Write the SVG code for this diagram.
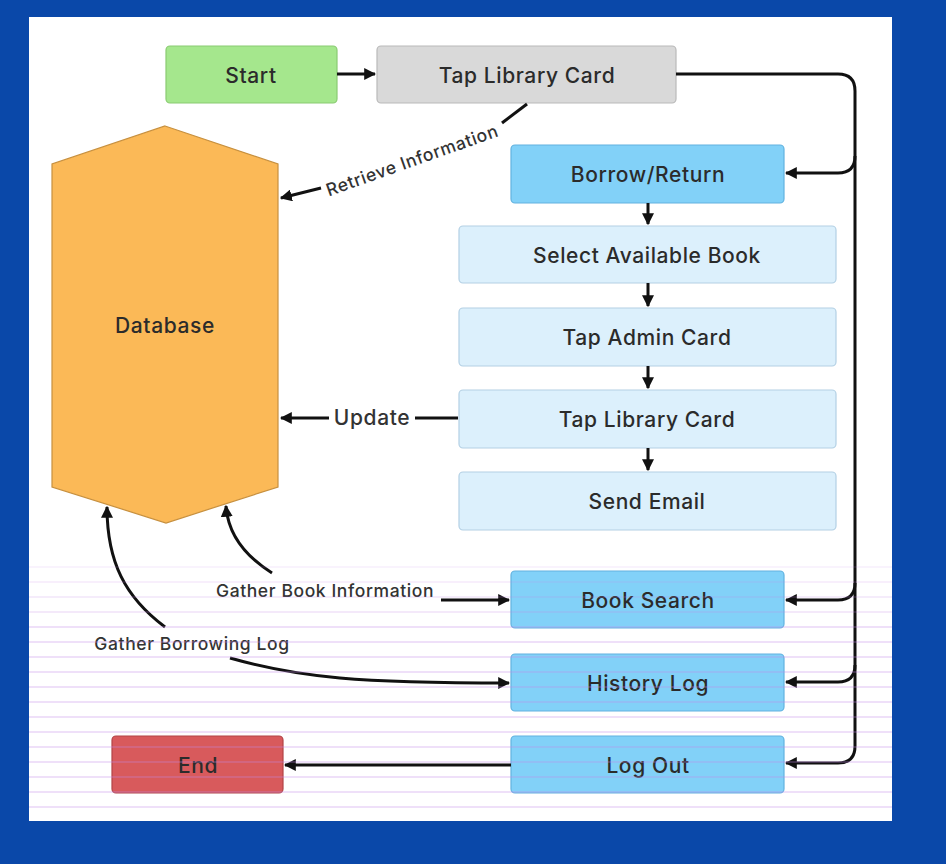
<svg xmlns="http://www.w3.org/2000/svg" width="946" height="864" viewBox="0 0 946 864">
<style>
  .lbl { font-family: Inter, "Noto Sans", "Liberation Sans", sans-serif; font-weight: 500; fill: #2b2b2b; text-anchor: middle; dominant-baseline: central; }
  .node-text { font-size: 21px; letter-spacing: 0.6px; }
  .edge-text { font-size: 17.5px; letter-spacing: 0.6px; fill: #333; }
  .box { stroke-width: 1.2; }
  .green { fill: #a5e78d; stroke: #8acb72; }
  .grey { fill: #d9d9d9; stroke: #b9b9b9; }
  .blue { fill: #82d1f8; stroke: #62b2df; }
  .light { fill: #dcf0fc; stroke: #b3d0e4; }
  .red { fill: #d85a5c; stroke: #b24446; }
  .db { fill: #fbb957; stroke: #c7903f; stroke-width: 1.2; }
  .conn { fill: none; stroke: #111; stroke-width: 3; }
  .moire line { stroke: #c58ae8; stroke-width: 1.5; }
</style>
<defs>
  <marker id="arr" viewBox="0 0 10 10" markerUnits="userSpaceOnUse" markerWidth="12" markerHeight="12" refX="9" refY="5" orient="auto">
    <path d="M0,0 L10,5 L0,10 z" fill="#111"/>
  </marker>
</defs>

<rect x="0" y="0" width="946" height="864" fill="#0a48a9"/>
<rect x="29" y="17" width="863" height="804" fill="#ffffff"/>

<g id="database">
  <polygon class="db" points="165,126 278,164 278,487 166,523 52,487 52,164"/>
  <text class="lbl node-text" x="165" y="325">Database</text>
</g>

<g id="start">
  <rect class="box green" x="166" y="46" width="171" height="57" rx="4"/>
  <text class="lbl node-text" x="251" y="75">Start</text>
</g>
<g id="tap-library-card-1">
  <rect class="box grey" x="377" y="46" width="299" height="57" rx="4"/>
  <text class="lbl node-text" x="527" y="75">Tap Library Card</text>
</g>
<g id="borrow-return">
  <rect class="box blue" x="511" y="145" width="273" height="58" rx="4"/>
  <text class="lbl node-text" x="648" y="174">Borrow/Return</text>
</g>
<g id="select-book">
  <rect class="box light" x="459" y="226" width="377" height="57" rx="4"/>
  <text class="lbl node-text" x="647" y="255">Select Available Book</text>
</g>
<g id="tap-admin-card">
  <rect class="box light" x="459" y="308" width="377" height="58" rx="4"/>
  <text class="lbl node-text" x="647" y="337">Tap Admin Card</text>
</g>
<g id="tap-library-card-2">
  <rect class="box light" x="459" y="390" width="377" height="58" rx="4"/>
  <text class="lbl node-text" x="647" y="419">Tap Library Card</text>
</g>
<g id="send-email">
  <rect class="box light" x="459" y="472" width="377" height="58" rx="4"/>
  <text class="lbl node-text" x="647" y="501">Send Email</text>
</g>
<g id="book-search">
  <rect class="box blue" x="511" y="571" width="273" height="57" rx="4"/>
  <text class="lbl node-text" x="648" y="600">Book Search</text>
</g>
<g id="history-log">
  <rect class="box blue" x="511" y="654" width="273" height="57" rx="4"/>
  <text class="lbl node-text" x="648" y="683">History Log</text>
</g>
<g id="log-out">
  <rect class="box blue" x="511" y="736" width="273" height="57" rx="4"/>
  <text class="lbl node-text" x="648" y="765">Log Out</text>
</g>
<g id="end">
  <rect class="box red" x="112" y="736" width="171" height="57" rx="4"/>
  <text class="lbl node-text" x="198" y="765">End</text>
</g>

<g id="connectors">
  <path class="conn" d="M337,74 H375" marker-end="url(#arr)"/>
  <path class="conn" d="M676,74 H838 Q855,74 855,91 V746 Q855,763 838,763 H786" marker-end="url(#arr)"/>
  <path class="conn" d="M855,156 Q855,173 838,173 H786" marker-end="url(#arr)"/>
  <path class="conn" d="M855,583 Q855,600 838,600 H786" marker-end="url(#arr)"/>
  <path class="conn" d="M855,665 Q855,682 838,682 H786" marker-end="url(#arr)"/>
  <path class="conn" d="M648,203 V224" marker-end="url(#arr)"/>
  <path class="conn" d="M648,283 V306" marker-end="url(#arr)"/>
  <path class="conn" d="M648,366 V388" marker-end="url(#arr)"/>
  <path class="conn" d="M648,448 V470" marker-end="url(#arr)"/>
  <path class="conn" d="M511,765 H285" marker-end="url(#arr)"/>
  <path class="conn" d="M527,104 L502,123"/>
  <path class="conn" d="M321,188 L281,198" marker-end="url(#arr)"/>
  <text class="lbl edge-text" x="412" y="160" transform="rotate(-19.5 412 160)">Retrieve Information</text>
  <path class="conn" d="M458,418 H415"/>
  <path class="conn" d="M329,418 H281" marker-end="url(#arr)"/>
  <text class="lbl edge-text" x="372" y="417" style="font-size:21px">Update</text>
  <path class="conn" d="M441,600 H509" marker-end="url(#arr)"/>
  <path class="conn" d="M272,573 C245,556 228,535 226,506" marker-end="url(#arr)"/>
  <text class="lbl edge-text" x="325" y="590">Gather Book Information</text>
  <path class="conn" d="M165,627 C125,597 107,562 107,507" marker-end="url(#arr)"/>
  <text class="lbl edge-text" x="192" y="643">Gather Borrowing Log</text>
  <path class="conn" d="M230,658 C300,678 360,683 509,683" marker-end="url(#arr)"/>
</g>

<g class="moire" opacity="0.35">
  <line x1="29" y1="567" x2="892" y2="567" opacity="0.4"/>
  <line x1="29" y1="582" x2="892" y2="582" opacity="0.5"/>
  <line x1="29" y1="597" x2="892" y2="597" opacity="0.6"/>
  <line x1="29" y1="612" x2="892" y2="612" opacity="0.7"/>
  <line x1="29" y1="627" x2="892" y2="627"/>
  <line x1="29" y1="642" x2="892" y2="642"/>
  <line x1="29" y1="657" x2="892" y2="657"/>
  <line x1="29" y1="672" x2="892" y2="672"/>
  <line x1="29" y1="687" x2="892" y2="687"/>
  <line x1="29" y1="702" x2="892" y2="702"/>
  <line x1="29" y1="717" x2="892" y2="717"/>
  <line x1="29" y1="732" x2="892" y2="732"/>
  <line x1="29" y1="747" x2="892" y2="747"/>
  <line x1="29" y1="762" x2="892" y2="762"/>
  <line x1="29" y1="777" x2="892" y2="777"/>
  <line x1="29" y1="792" x2="892" y2="792"/>
  <line x1="29" y1="807" x2="892" y2="807"/>
</g>
</svg>
